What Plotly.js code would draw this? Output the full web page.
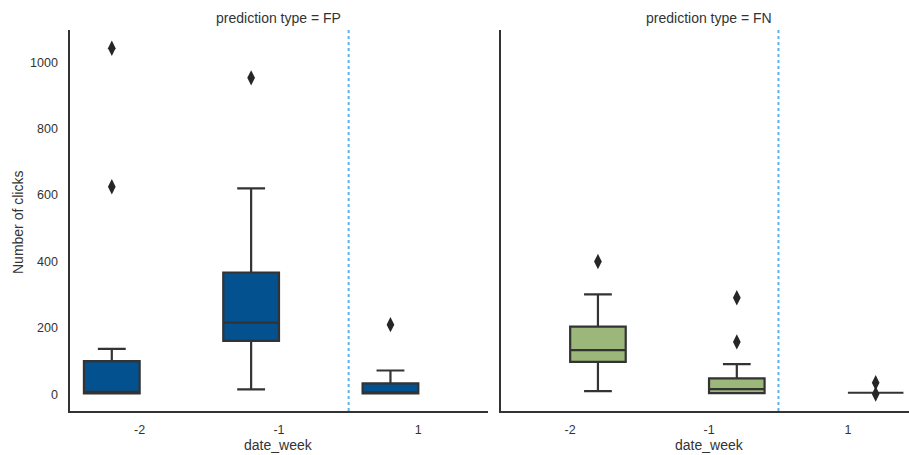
<!DOCTYPE html>
<html>
<head>
<meta charset="utf-8">
<script src="https://cdn.plot.ly/plotly-3.0.1.min.js"></script>
<style>html,body{margin:0;padding:0;background:#fff;}#chart{width:909px;height:455px;}</style>
</head>
<body>
<div id="chart"></div>
<script>
// ---- data ----
const weeks = ['-2', '-1', '1'];
const panels = ['FP', 'FN'];

// FP (false positives)
const fpQ1 = [3, 161, 3];
const fpMedian = [8, 216, 6];
const fpQ3 = [100, 367, 33];
const fpLowerWhisker = [3, 15, 3];
const fpUpperWhisker = [137, 620, 72];
const fpOutlierWeek = [0, 0, 1, 2];
const fpOutlierValue = [1042, 625, 953, 210];

// FN (false negatives)
const fnQ1 = [98, 4, 5];
const fnMedian = [133, 16, 5];
const fnQ3 = [204, 48, 5];
const fnLowerWhisker = [10, 4, 5];
const fnUpperWhisker = [301, 91, 5];
const fnOutlierWeek = [0, 1, 1, 2, 2];
const fnOutlierValue = [400, 291, 158, 35, 1];

const separatorAt = 1.5; // boundary between negative and positive weeks

// ---- style ----
const fpColor = '#03518E';
const fnColor = '#9BB87A';
const edge = '#333333';
const hueOffset = {FP: -0.2, FN: 0.2};
const boxWidth = 0.4;
const font = 'Liberation Sans, Arial, sans-serif';

function idx(arr) { return arr.map((_, i) => i); }

function boxTrace(name, q1, med, q3, lo, hi, color, xa, ya) {
  return {
    type: 'box', name: name,
    x: idx(q1).map(i => i + hueOffset[name]),
    q1: q1, median: med, q3: q3, lowerfence: lo, upperfence: hi,
    width: boxWidth, whiskerwidth: 0.5,
    fillcolor: color, line: {color: edge, width: 2.2},
    xaxis: xa, yaxis: ya, showlegend: false, hoverinfo: 'skip'
  };
}
function outlierTrace(name, wk, vals, xa, ya) {
  return {
    type: 'scatter', mode: 'markers',
    x: wk.map(w => w + hueOffset[name]), y: vals,
    marker: {symbol: 'diamond-tall', size: 11, color: '#262626'},
    xaxis: xa, yaxis: ya, showlegend: false, hoverinfo: 'skip'
  };
}

const data = [
  boxTrace('FP', fpQ1, fpMedian, fpQ3, fpLowerWhisker, fpUpperWhisker, fpColor, 'x', 'y'),
  outlierTrace('FP', fpOutlierWeek, fpOutlierValue, 'x', 'y'),
  boxTrace('FN', fnQ1, fnMedian, fnQ3, fnLowerWhisker, fnUpperWhisker, fnColor, 'x2', 'y2'),
  outlierTrace('FN', fnOutlierWeek, fnOutlierValue, 'x2', 'y2')
];

const yRange = [-50, 1097];
const axisCommon = {
  showgrid: false, zeroline: false, showline: true, linecolor: edge, linewidth: 1.6,
  ticks: '', tickfont: {family: font, size: 12.5, color: '#333'}
};

const layout = {
  width: 909, height: 455,
  margin: {l: 70, r: 0, t: 30, b: 44, pad: 0},
  paper_bgcolor: '#fff', plot_bgcolor: '#fff',
  font: {family: font, color: '#333'},
  showlegend: false,
  xaxis: Object.assign({}, axisCommon, {
    domain: [0, 0.4982], range: [-0.5, 2.5],
    tickmode: 'array', tickvals: idx(weeks), ticktext: weeks, ticklabelstandoff: 6
  }),
  xaxis2: Object.assign({}, axisCommon, {
    domain: [0.5134, 1], range: [-0.5, 2.44],
    tickmode: 'array', tickvals: idx(weeks), ticktext: weeks, ticklabelstandoff: 6
  }),
  yaxis: Object.assign({}, axisCommon, {
    domain: [0, 1], range: yRange, tickmode: 'linear', tick0: 0, dtick: 200,
    ticklabelstandoff: 8
  }),
  yaxis2: Object.assign({}, axisCommon, {
    domain: [0, 1], range: yRange, anchor: 'x2', showticklabels: false
  }),
  shapes: [
    {type: 'line', xref: 'x', yref: 'y domain', x0: separatorAt, x1: separatorAt, y0: 0, y1: 1,
     line: {color: '#5DB2EE', width: 2, dash: 'dot'}},
    {type: 'line', xref: 'x2', yref: 'y2 domain', x0: separatorAt, x1: separatorAt, y0: 0, y1: 1,
     line: {color: '#5DB2EE', width: 2, dash: 'dot'}}
  ],
  annotations: [
    {text: 'prediction type = ' + panels[0], xref: 'x', yref: 'paper', x: 1, y: 1.0315,
     showarrow: false, xanchor: 'center', yanchor: 'middle', font: {family: font, size: 14, color: '#333'}},
    {text: 'prediction type = ' + panels[1], xref: 'x2', yref: 'paper', x: 1, y: 1.0315,
     showarrow: false, xanchor: 'center', yanchor: 'middle', font: {family: font, size: 14, color: '#333'}},
    {text: 'date_week', xref: 'x', yref: 'paper', x: 1, y: -0.0892,
     showarrow: false, xanchor: 'center', yanchor: 'middle', font: {family: font, size: 14, color: '#333'}},
    {text: 'date_week', xref: 'x2', yref: 'paper', x: 1, y: -0.0892,
     showarrow: false, xanchor: 'center', yanchor: 'middle', font: {family: font, size: 14, color: '#333'}},
    {text: 'Number of clicks', xref: 'paper', yref: 'paper', x: -0.062, y: 0.496, textangle: -90,
     showarrow: false, xanchor: 'center', yanchor: 'middle', font: {family: font, size: 14, color: '#333'}}
  ]
};

Plotly.newPlot('chart', data, layout, {displayModeBar: false, staticPlot: true});
</script>
</body>
</html>
